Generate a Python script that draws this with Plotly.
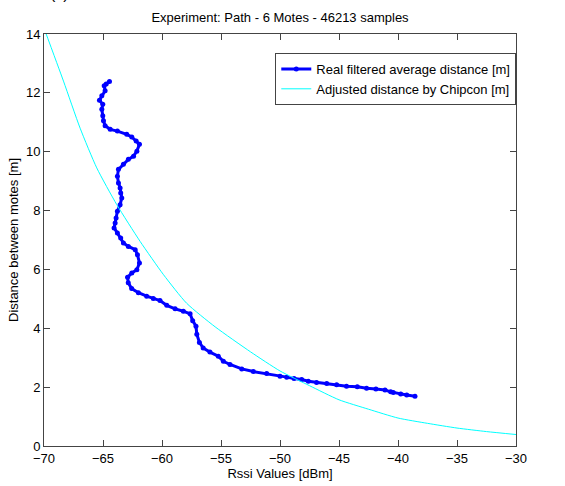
import plotly.graph_objects as go

# Real filtered average distance (RSSI dBm, distance m), ordered along the path
real_rssi = [-64.45, -64.73, -64.90, -64.82, -65.10, -65.30, -65.02, -65.10, -65.02, -64.96,
             -64.82, -64.39, -63.78, -62.99, -62.56, -62.19, -61.91, -62.13, -62.41, -62.85,
             -63.27, -63.69, -63.78, -63.69, -63.55, -63.50, -63.41, -63.55, -63.78, -63.89,
             -63.97, -64.06, -63.78, -63.50, -63.27, -62.85, -62.27, -62.08, -61.91, -62.13,
             -62.56, -62.92, -62.86, -62.57, -62.00, -61.30, -60.74, -60.17, -59.60, -58.89,
             -58.19, -57.62, -57.40, -57.12, -57.05, -56.83, -56.51, -55.94, -55.23, -54.80,
             -54.24, -53.24, -52.26, -51.13, -50.00, -49.43, -48.81, -48.16, -47.60, -46.90,
             -46.04, -45.20, -44.36, -43.45, -42.66, -41.87, -41.10, -40.62, -40.40, -39.77,
             -39.26, -38.56]
real_dist = [12.39, 12.30, 12.24, 12.07, 11.90, 11.75, 11.61, 11.44, 11.22, 11.05,
             10.88, 10.76, 10.70, 10.59, 10.50, 10.36, 10.25, 10.02, 9.85, 9.74,
             9.57, 9.40, 9.17, 8.94, 8.77, 8.60, 8.43, 8.20, 7.98, 7.75,
             7.58, 7.41, 7.24, 7.07, 6.90, 6.78, 6.67, 6.50, 6.22, 5.99,
             5.88, 5.73, 5.55, 5.35, 5.21, 5.09, 5.01, 4.94, 4.78, 4.66,
             4.58, 4.49, 4.26, 4.07, 3.80, 3.52, 3.33, 3.19, 3.05, 2.88,
             2.77, 2.62, 2.53, 2.46, 2.37, 2.34, 2.29, 2.26, 2.20, 2.16,
             2.12, 2.08, 2.03, 2.01, 1.96, 1.94, 1.90, 1.84, 1.82, 1.77,
             1.73, 1.69]

# Adjusted distance by Chipcon
chip_rssi = [-70.0, -68.35, -66.94, -65.53, -63.83, -61.85, -59.87, -57.91, -55.5, -52.5,
             -50.0, -47.5, -45.0, -42.5, -40.0, -37.5, -35.0, -32.5, -30.0]
chip_dist = [14.2, 12.4, 10.8, 9.45, 8.2, 6.95, 5.82, 4.85, 4.05, 3.2,
             2.55, 2.05, 1.57, 1.25, 0.95, 0.77, 0.61, 0.49, 0.39]

x_ticks = [-70, -65, -60, -55, -50, -45, -40, -35, -30]
y_ticks = [0, 2, 4, 6, 8, 10, 12, 14]

FONT = "Liberation Sans, Arial, sans-serif"

fig = go.Figure()
fig.add_trace(go.Scatter(
    x=real_rssi, y=real_dist, mode="lines+markers",
    name="Real filtered average distance [m]",
    line=dict(color="#0000FF", width=3),
    marker=dict(color="#0000FF", size=5, symbol="circle"),
))
fig.add_trace(go.Scatter(
    x=chip_rssi, y=chip_dist, mode="lines",
    name="Adjusted distance by Chipcon [m]",
    line=dict(color="#00FFFF", width=1, shape="spline", smoothing=0.6),
))

axis_common = dict(
    showline=True, linecolor="#444", linewidth=1, mirror="ticks",
    ticks="inside", ticklen=6, tickcolor="#444", tickwidth=1,
    showgrid=False, zeroline=False, automargin=False,
    tickfont=dict(family=FONT, size=13, color="black"),
)

fig.update_layout(
    template="none",
    width=565, height=486,
    margin=dict(l=44, r=49, t=34, b=40),
    paper_bgcolor="white", plot_bgcolor="white",
    font=dict(family=FONT, size=13, color="black"),
    title=dict(text="Experiment: Path - 6 Motes - 46213 samples",
               xref="paper", x=0.5, xanchor="center", y=0.965, yanchor="middle",
               font=dict(family=FONT, size=13, color="black")),
    xaxis=dict(range=[-70, -30], tickvals=x_ticks,
               title=dict(text="Rssi Values [dBm]", standoff=0,
                          font=dict(family=FONT, size=13)),
               **axis_common),
    yaxis=dict(range=[0, 14], tickvals=y_ticks,
               title=dict(text="Distance between motes [m]", standoff=4,
                          font=dict(family=FONT, size=13)),
               **axis_common),
    legend=dict(x=0.49, y=0.954, xanchor="left", yanchor="top",
                bgcolor="white", bordercolor="#444", borderwidth=1,
                font=dict(family=FONT, size=13, color="black"),
                itemwidth=30, tracegroupgap=0),
    showlegend=True,
    annotations=[dict(text="(c)", xref="paper", yref="paper",
                      x=0.008, y=1.074, xanchor="left", yanchor="bottom",
                      showarrow=False, font=dict(family=FONT, size=16, color="black"))],
)

fig.write_html("out.html",
               config={"displayModeBar": False},
               post_script="document.body.style.margin='0px';document.body.style.overflow='hidden';")
